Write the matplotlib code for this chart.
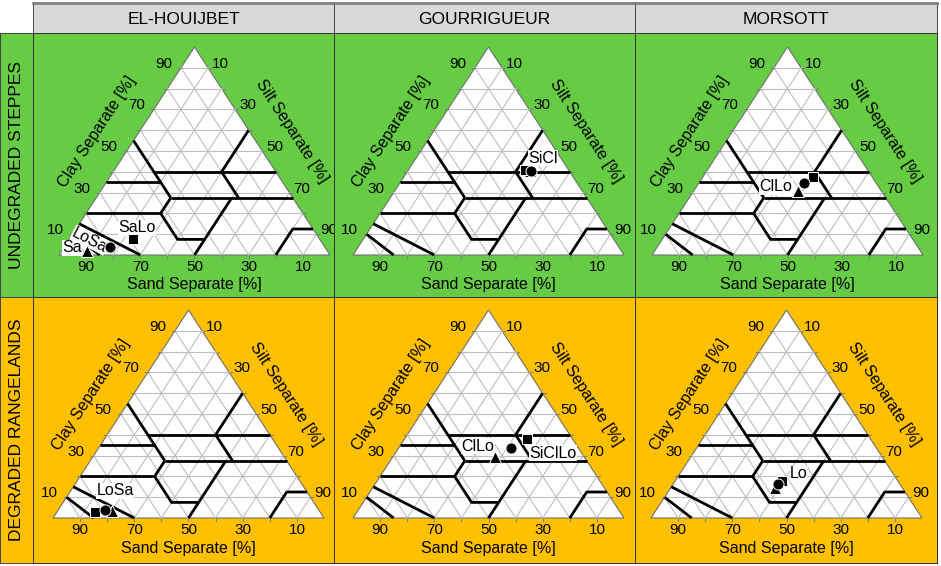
import numpy as np
import matplotlib.pyplot as plt
from matplotlib.patches import Polygon

plt.rcParams['font.family'] = ['Liberation Sans', 'DejaVu Sans']

# === Data
sites = ['EL-HOUIJBET', 'GOURRIGUEUR', 'MORSOTT']
conditions = ['UNDEGRADED STEPPES', 'DEGRADED RANGELANDS']
cond_colors = ['#66CC44', '#FFC000']
axis_ticks = [10, 30, 50, 70, 90]

# samples as (sand, silt, clay) in %, one entry per panel (row-major)
samples_triangle = [(88.5, 9.5, 2.0), (14.5, 45.0, 40.5), (30.7, 38.3, 31.0),
                    (76.5, 20.0, 3.5), (33.0, 37.8, 29.2), (47.1, 38.6, 14.3)]
samples_square = [(68.8, 23.5, 7.7), (16.0, 43.0, 41.0), (22.0, 40.6, 37.4),
                  (82.9, 14.1, 3.0), (16.8, 45.4, 37.8), (42.7, 39.5, 17.8)]
samples_circle = [(79.2, 16.8, 4.0), (14.0, 45.5, 40.5), (26.6, 38.9, 34.5),
                  (79.0, 17.1, 3.9), (24.9, 41.6, 33.5), (44.9, 38.8, 16.3)]

# texture class names written next to the samples: (name, sand, silt, clay, rotation)
class_labels = [
    [('SaLo', 64.7, 22.3, 13.0, 0), ('LoSa', 85.0, 7.8, 7.2, -27), ('Sa', 93.5, 3.1, 3.4, 0)],
    [('SiCl', 6.6, 46.8, 46.6, 0)],
    [('ClLo', 37.9, 29.4, 32.7, 0)],
    [('LoSa', 70.6, 16.4, 13.0, 0)],
    [('ClLo', 36.6, 28.8, 34.6, 0), ('SiClLo', 10.6, 58.2, 31.2, 0)],
    [('Lo', 34.8, 44.0, 21.2, 0)],
]

# USDA texture class boundaries, polylines of (sand, silt, clay)
usda_lines = [
    [(85, 15, 0), (90, 0, 10)],
    [(70, 30, 0), (85, 0, 15)],
    [(80, 0, 20), (52.5, 27.5, 20)],
    [(52.5, 27.5, 20), (52.5, 40, 7.5), (42.5, 50, 7.5), (50, 50, 0)],
    [(42.5, 50, 7.5), (22.5, 50, 27.5)],
    [(52.5, 27.5, 20), (45, 27.5, 27.5)],
    [(45, 27.5, 27.5), (45, 0, 55)],
    [(65, 0, 35), (45, 20, 35)],
    [(45, 27.5, 27.5), (0, 72.5, 27.5)],
    [(45, 15, 40), (0, 60, 40)],
    [(20, 40, 40), (0, 40, 60)],
    [(20, 40, 40), (20, 52.5, 27.5)],
    [(20, 80, 0), (7.5, 80, 12.5), (0, 87.5, 12.5)],
]


def tern(sand, silt, clay):
    return silt + clay / 2.0, clay


# === Layout (pixels)
FW, FH = 941, 566
col_x = [33, 334, 635, 937]
row_y = [33, 297, 563]
tri_left = [[59, 353, 652], [53, 353, 651]]
tri_base = [255, 518]
W, H = 271, 208
sx, sy = 100.0 / W, 100.0 / H
edge_ang = np.degrees(np.arctan2(H, W / 2.0))

fig = plt.figure(figsize=(FW / 100, FH / 100), dpi=100)

# column strips
for c, name in enumerate(sites):
    L, R = col_x[c], col_x[c + 1]
    ax = fig.add_axes([L / FW, 1 - 33 / FH, (R - L) / FW, 30 / FH])
    ax.set_facecolor('#D9D9D9')
    ax.set_xticks([]); ax.set_yticks([])
    for s in ax.spines.values():
        s.set_color('#444444'); s.set_linewidth(0.7)
    ax.spines['top'].set_color('#808080'); ax.spines['top'].set_linewidth(2)
    ax.text(0.5, 0.45, name, ha='center', va='center', fontsize=12.5, transform=ax.transAxes)

# row strips
for r, name in enumerate(conditions):
    T, B = row_y[r], row_y[r + 1]
    ax = fig.add_axes([0, 1 - B / FH, 33 / FW, (B - T) / FH])
    ax.set_facecolor(cond_colors[r])
    ax.set_xticks([]); ax.set_yticks([])
    for s in ax.spines.values():
        s.set_color('#444444'); s.set_linewidth(0.7)
    ax.text(0.5, 0.5, name, ha='center', va='center', rotation=90, fontsize=12.5,
            transform=ax.transAxes)

# ternary panels
for r in range(2):
    for c in range(3):
        k = r * 3 + c
        L, R = col_x[c], col_x[c + 1]
        T, B = row_y[r], row_y[r + 1]
        ax = fig.add_axes([L / FW, 1 - B / FH, (R - L) / FW, (B - T) / FH])
        tx, ty = tri_left[r][c], tri_base[r]
        ax.set_xlim((L - tx) * sx, (R - tx) * sx)
        ax.set_ylim((ty - B) * sy, (ty - T) * sy)
        ax.set_facecolor(cond_colors[r])
        ax.set_xticks([]); ax.set_yticks([])
        for s in ax.spines.values():
            s.set_color('#2f2f2f'); s.set_linewidth(0.7)

        ax.add_patch(Polygon([(0, 0), (100, 0), (50, 100)], closed=True, fc='white',
                             ec='#707070', lw=0.8, zorder=1))

        # grid
        for v in range(10, 100, 10):
            for a, b in [((100 - v, 0, v), (0, 100 - v, v)),
                         ((v, 100 - v, 0), (v, 0, 100 - v)),
                         ((100 - v, v, 0), (0, v, 100 - v))]:
                x0, y0 = tern(*a); x1, y1 = tern(*b)
                ax.plot([x0, x1], [y0, y1], color='#BEBEBE', lw=0.8, zorder=2)
            # small ticks
            ax.plot([v, v], [0, -3 * sy], color='#808080', lw=0.8, zorder=2)
            ax.plot([v / 2, v / 2 - 3 * sx], [v, v], color='#808080', lw=0.8, zorder=2)
            ax.plot([50 + v / 2, 50 + v / 2 + 3 * sx], [100 - v, 100 - v],
                    color='#808080', lw=0.8, zorder=2)

        # texture class boundaries
        for line in usda_lines:
            pts = np.array([tern(*p) for p in line])
            ax.plot(pts[:, 0], pts[:, 1], color='black', lw=2.0, solid_capstyle='butt', zorder=3)

        # tick labels
        for v in axis_ticks:
            ax.text(100 - v, -5 * sy, str(v), ha='center', va='top', fontsize=11)
            ax.text(v / 2 - 9 * sx, v + 4 * sy, str(v), ha='right', va='center', fontsize=11)
            ax.text(50 + v / 2 + 4 * sx, 100 - v + 4 * sy, str(v), ha='left', va='center',
                    fontsize=11)

        # axis titles
        ax.text(50, -30 * sy, 'Sand Separate [%]', ha='center', va='center', fontsize=11.5)
        nx, ny = np.cos(np.radians(edge_ang)), np.sin(np.radians(edge_ang))
        ax.text(25 - 36 * ny * sx, 50 + 36 * nx * sy, 'Clay Separate [%]', ha='center',
                va='center', rotation=edge_ang, fontsize=11.5)
        ax.text(75 + 36 * ny * sx, 50 + 36 * nx * sy, 'Silt Separate [%]', ha='center',
                va='center', rotation=-edge_ang, fontsize=11.5)

        # class labels
        for name, sa, si, cl, rot in class_labels[k]:
            x, y = tern(sa, si, cl)
            ax.text(x, y, name, ha='center', va='center', fontsize=11.5, rotation=rot,
                    rotation_mode='anchor', zorder=4,
                    bbox=dict(fc='white', ec='none', pad=0.2))

        # samples
        for pts, mk, ms in [(samples_triangle, '^', 8), (samples_square, 's', 7),
                            (samples_circle, 'o', 8)]:
            x, y = tern(*pts[k])
            ax.plot(x, y, marker=mk, ms=ms, color='black', mec='white', mew=0.7,
                    ls='none', zorder=5)

fig.savefig('out.png', dpi=100)
